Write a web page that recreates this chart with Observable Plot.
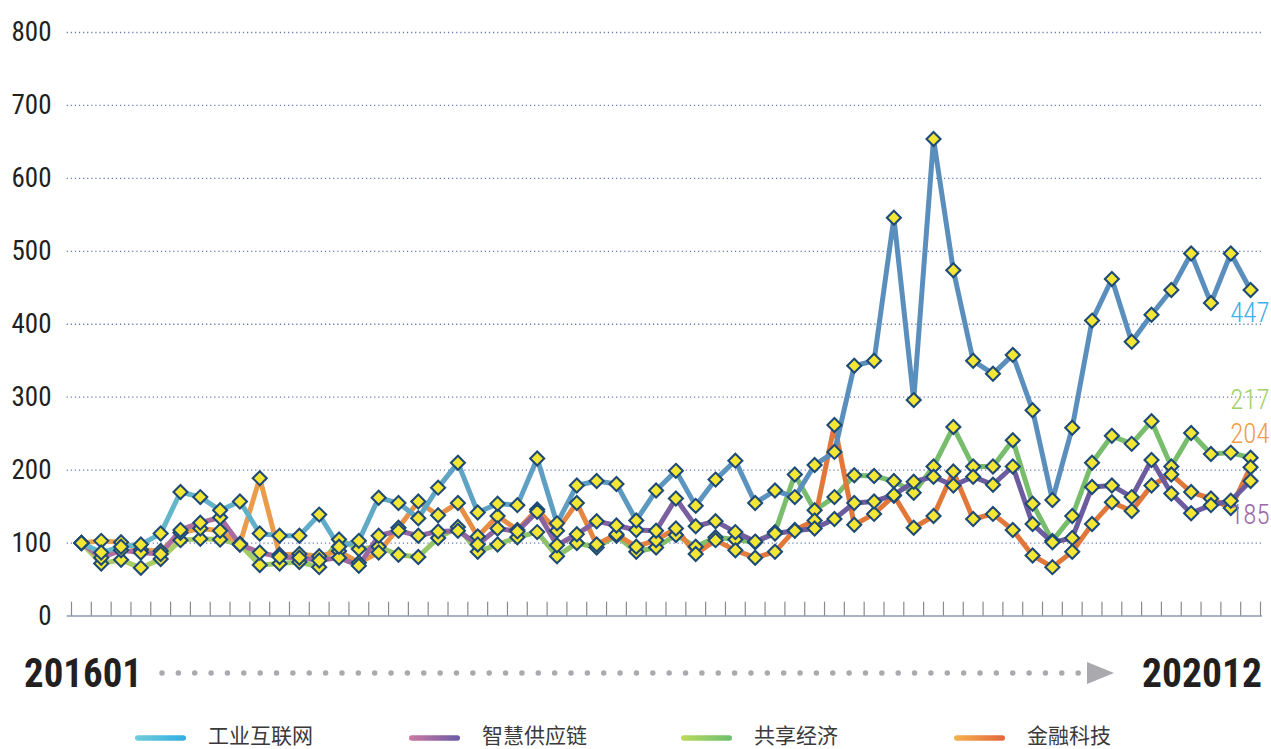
<!DOCTYPE html>
<html><head><meta charset="utf-8">
<script src="https://cdn.jsdelivr.net/npm/d3@7"></script>
<script src="https://cdn.jsdelivr.net/npm/@observablehq/plot@0.6"></script>
<style>
html,body{margin:0;padding:0;background:#fff}
body{width:1271px;height:749px;overflow:hidden;position:relative}
#chart{position:absolute;left:0;top:0}
#anno{position:absolute;left:0;top:625px}
</style></head>
<body>
<div id="chart"></div>
<svg id="anno" width="1271" height="124"></svg>
<script>
// ---------- data ----------
const startLabel = "201601";
const endLabel = "202012";
const months = d3.range(60).map(i => String(2016 + Math.floor(i / 12)) + String(i % 12 + 1).padStart(2, "0"));
const seriesNames = ["工业互联网", "智慧供应链", "共享经济", "金融科技"];
const yTicks = [0, 100, 200, 300, 400, 500, 600, 700, 800];

const industrialInternet = [100,87,95,98,113,170,163,145,157,113,110,110,139,95,103,162,155,134,176,210,142,154,152,216,127,179,185,181,131,172,199,151,187,213,155,172,163,207,225,343,350,546,296,654,474,350,332,358,282,159,258,405,462,376,413,447,497,429,497,447];
const smartSupplyChain = [100,80,90,87,85,118,128,135,98,87,81,80,76,80,69,110,117,110,116,117,98,120,116,143,97,112,130,124,118,117,161,123,130,115,102,113,117,120,133,155,157,166,184,191,179,191,180,205,126,101,107,177,179,163,214,168,141,152,158,185];
const sharingEconomy = [100,72,77,66,78,104,106,105,98,70,72,74,67,105,92,95,84,81,107,122,88,98,108,115,82,100,94,110,88,94,111,95,108,105,101,115,194,145,163,193,192,185,169,205,259,205,205,241,154,103,137,210,247,236,267,205,251,222,224,217];
const fintech = [100,103,101,91,89,114,120,117,99,189,84,85,82,89,73,87,121,157,138,155,109,137,118,146,117,155,98,112,95,104,120,85,104,90,80,88,118,131,262,125,140,165,121,137,198,133,140,118,83,67,88,126,156,144,179,194,170,161,148,204];

// ---------- styles ----------
const lineGrad = [
  ["#64b8cb", "#5a8ebd"],   // 工业互联网
  ["#b46fa0", "#6c5c9f"],   // 智慧供应链
  ["#accd66", "#78bd6c"],   // 共享经济
  ["#eca44f", "#e2773a"]    // 金融科技
];
const legendGrad = [
  ["#70ccd9", "#33ade3"],
  ["#cc7aa0", "#6a5aa8"],
  ["#bcd95c", "#69bf70"],
  ["#f5b24e", "#e3663a"]
];
const labelColor = ["#3fb4e6", "#9a68a8", "#a2d16c", "#f09c4c"];
const labelDy = [23, 34, -57, -33];

const valuesBySeries = [industrialInternet, smartSupplyChain, sharingEconomy, fintech];
const rows = valuesBySeries.flatMap((vals, k) => vals.map((v, i) => ({series: seriesNames[k], k, i, month: months[i], value: v})));
const edges = d3.range(61).map(k => k - 0.5);

const drawOrder = [2, 3, 1, 0];
const numFont = '"Liberation Sans Narrow","Roboto Condensed","DejaVu Sans Condensed",Roboto,sans-serif';

const marks = [
  Plot.ruleY(yTicks.filter(d => d > 0), {y: d => d, x1: -0.72, x2: 59.6, stroke: "#6677b0", strokeWidth: 1.3, strokeDasharray: "1.2 2.9"}),
  Plot.text(yTicks, {x: -0.5, y: d => d, text: d => String(d), dx: -20, textAnchor: "end", fontSize: 27, fontFamily: numFont, fill: "#231f20"}),
  Plot.ruleX(edges, {x: d => d, y1: 0, y2: 19, stroke: "#8a8a8a", strokeWidth: 1.2}),
  Plot.ruleY([0], {x1: -0.72, x2: 59.6, stroke: "#56668c", strokeWidth: 1.1}),
  ...drawOrder.map(k => Plot.line(rows.filter(d => d.k === k), {
    x: "i", y: "value", stroke: `url(#lg${k})`, strokeWidth: 5, strokeLinejoin: "round", strokeLinecap: "round"
  })),
  ...drawOrder.map(k => Plot.dot(rows.filter(d => d.k === k), {
    x: "i", y: "value", symbol: "diamond2", r: 6.3, fill: "#f3e634", stroke: "#1e4a78", strokeWidth: 2.1
  })),
  ...[0, 1, 2, 3].map(k => Plot.text(rows.filter(d => d.k === k && d.i === 59), {
    x: "i", y: "value", text: d => String(d.value), dx: 19, dy: labelDy[k], textAnchor: "end",
    fontSize: 27, fontWeight: 300, fontFamily: numFont, fill: labelColor[k]
  }))
];

const chart = Plot.plot({
  width: 1271, height: 625,
  marginTop: 32, marginBottom: 9.5, marginLeft: 71, marginRight: 11,
  x: {type: "linear", domain: [-0.5, 59.5], axis: null},
  y: {type: "linear", domain: [0, 800], axis: null},
  style: {background: "transparent", overflow: "visible"},
  marks
});

const xs = chart.scale("x");
const x0 = xs.apply(-0.5), x1 = xs.apply(59.5);
const defs = d3.select(chart).insert("defs", ":first-child");
lineGrad.forEach((c, k) => {
  const g = defs.append("linearGradient").attr("id", "lg" + k).attr("gradientUnits", "userSpaceOnUse")
    .attr("x1", x0).attr("x2", x1).attr("y1", 0).attr("y2", 0);
  g.append("stop").attr("offset", "0.05").attr("stop-color", c[0]);
  g.append("stop").attr("offset", "0.62").attr("stop-color", c[1]);
});
document.getElementById("chart").appendChild(chart);

// ---------- timeline + legend ----------
const anno = d3.select("#anno");
const adefs = anno.append("defs");
legendGrad.forEach((c, k) => {
  const g = adefs.append("linearGradient").attr("id", "leg" + k);
  g.append("stop").attr("offset", "0").attr("stop-color", c[0]);
  g.append("stop").attr("offset", "1").attr("stop-color", c[1]);
});
const ty = 48; // timeline centre
anno.append("text").attr("x", 24).attr("y", ty + 14).attr("font-family", numFont).attr("font-weight", 700)
  .attr("font-size", 40).attr("fill", "#231f20").attr("textLength", 118).attr("lengthAdjust", "spacingAndGlyphs").text(startLabel);
anno.append("text").attr("x", 1142).attr("y", ty + 14).attr("font-family", numFont).attr("font-weight", 700)
  .attr("font-size", 40).attr("fill", "#231f20").attr("textLength", 120).attr("lengthAdjust", "spacingAndGlyphs").text(endLabel);
anno.append("line").attr("x1", 162).attr("x2", 1082).attr("y1", ty).attr("y2", ty)
  .attr("stroke", "#a9a9ae").attr("stroke-width", 5.5).attr("stroke-linecap", "round").attr("stroke-dasharray", "0 16.36");
anno.append("path").attr("d", `M1087,${ty - 11}L1114,${ty}L1087,${ty + 11}Z`).attr("fill", "#a9a9ae");

const legX = [135, 409, 681, 954];
seriesNames.forEach((name, k) => {
  anno.append("rect").attr("x", legX[k]).attr("y", 110.2).attr("width", 51).attr("height", 5.6).attr("rx", 2.8)
    .attr("fill", `url(#leg${k})`);
  anno.append("text").attr("x", legX[k] + 73).attr("y", 117.5).attr("font-family", '"Noto Sans CJK SC",sans-serif')
    .attr("font-size", 21).attr("font-weight", 400).attr("fill", "#3a3a3a").text(name);
});
</script>
</body></html>
